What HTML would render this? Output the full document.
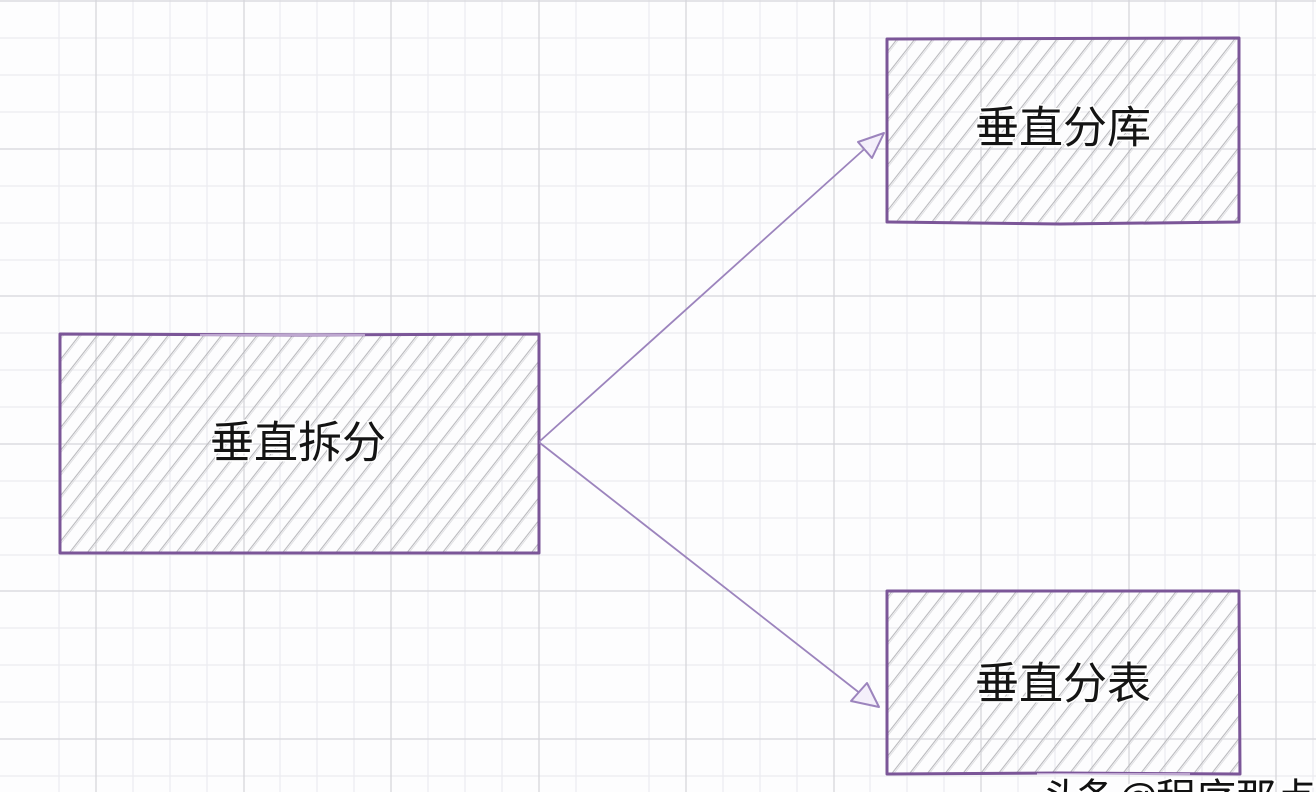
<!DOCTYPE html>
<html><head><meta charset="utf-8"><style>
html,body{margin:0;padding:0;background:#fff;}
svg{display:block;}
</style></head><body>
<svg width="1316" height="792" viewBox="0 0 1316 792" xmlns="http://www.w3.org/2000/svg">
<defs>
<pattern id="h" width="14" height="14" patternUnits="userSpaceOnUse" patternTransform="rotate(38)">
<line x1="3" y1="0" x2="3" y2="14" stroke="#b9b9bd" stroke-width="1.1"/>
<line x1="4.6" y1="0" x2="4.6" y2="14" stroke="#dadade" stroke-width="0.8"/>
</pattern>
</defs>
<rect width="1316" height="792" fill="#fdfdfe"/>
<g stroke="#ececf0" stroke-width="1.2">
<line x1="59" y1="0" x2="59" y2="792"/><line x1="133" y1="0" x2="133" y2="792"/><line x1="170" y1="0" x2="170" y2="792"/><line x1="207" y1="0" x2="207" y2="792"/>
<line x1="280" y1="0" x2="280" y2="792"/><line x1="317" y1="0" x2="317" y2="792"/><line x1="354" y1="0" x2="354" y2="792"/>
<line x1="428" y1="0" x2="428" y2="792"/><line x1="465" y1="0" x2="465" y2="792"/><line x1="502" y1="0" x2="502" y2="792"/>
<line x1="576" y1="0" x2="576" y2="792"/><line x1="649" y1="0" x2="649" y2="792"/>
<line x1="723" y1="0" x2="723" y2="792"/><line x1="760" y1="0" x2="760" y2="792"/><line x1="797" y1="0" x2="797" y2="792"/>
<line x1="870" y1="0" x2="870" y2="792"/><line x1="907" y1="0" x2="907" y2="792"/><line x1="944" y1="0" x2="944" y2="792"/>
<line x1="1018" y1="0" x2="1018" y2="792"/><line x1="1055" y1="0" x2="1055" y2="792"/><line x1="1092" y1="0" x2="1092" y2="792"/>
<line x1="1165" y1="0" x2="1165" y2="792"/><line x1="1202" y1="0" x2="1202" y2="792"/><line x1="1239" y1="0" x2="1239" y2="792"/>
<line x1="1313" y1="0" x2="1313" y2="792"/>
<line x1="0" y1="38" x2="1316" y2="38"/><line x1="0" y1="75" x2="1316" y2="75"/><line x1="0" y1="112" x2="1316" y2="112"/>
<line x1="0" y1="186" x2="1316" y2="186"/><line x1="0" y1="223" x2="1316" y2="223"/><line x1="0" y1="260" x2="1316" y2="260"/>
<line x1="0" y1="333" x2="1316" y2="333"/><line x1="0" y1="370" x2="1316" y2="370"/><line x1="0" y1="407" x2="1316" y2="407"/>
<line x1="0" y1="481" x2="1316" y2="481"/><line x1="0" y1="518" x2="1316" y2="518"/><line x1="0" y1="555" x2="1316" y2="555"/>
<line x1="0" y1="628" x2="1316" y2="628"/><line x1="0" y1="665" x2="1316" y2="665"/><line x1="0" y1="702" x2="1316" y2="702"/>
<line x1="0" y1="776" x2="1316" y2="776"/>
</g>
<g stroke="#d6d6db" stroke-width="1.3">
<line x1="96" y1="0" x2="96" y2="792"/><line x1="244" y1="0" x2="244" y2="792"/><line x1="391" y1="0" x2="391" y2="792"/>
<line x1="539" y1="0" x2="539" y2="792"/><line x1="686" y1="0" x2="686" y2="792"/><line x1="834" y1="0" x2="834" y2="792"/>
<line x1="981" y1="0" x2="981" y2="792"/><line x1="1129" y1="0" x2="1129" y2="792"/><line x1="1276" y1="0" x2="1276" y2="792"/>
<line x1="0" y1="1" x2="1316" y2="1"/><line x1="0" y1="149" x2="1316" y2="149"/><line x1="0" y1="296" x2="1316" y2="296"/>
<line x1="0" y1="444" x2="1316" y2="444"/><line x1="0" y1="591" x2="1316" y2="591"/><line x1="0" y1="739" x2="1316" y2="739"/>
</g>

<!-- boxes -->
<g fill="url(#h)" stroke="#7b5698" stroke-width="3" stroke-linejoin="round">
<path d="M60 334 L300 335 L539 334 L539 553 L300 553 L60 553 Z"/>
<path d="M887 39 L1239 38 L1239 222 L1060 224 L887 222 Z"/>
<path d="M887 591 L1239 591 L1240 774 L1060 773 L887 774 Z"/>
</g>
<g stroke="#e6d8f2" stroke-width="1.2" fill="none">
<line x1="200" y1="335" x2="365" y2="335"/>
<line x1="1037" y1="774" x2="1190" y2="774"/>
</g>

<!-- arrows -->
<g stroke="#9c84bd" stroke-width="1.8" fill="none" stroke-linecap="round">
<line x1="540" y1="441" x2="880" y2="135"/>
<line x1="540" y1="443" x2="875" y2="705"/>
</g>
<g stroke="#9c84bd" stroke-width="2" fill="#f4effa" stroke-linejoin="round">
<polygon points="884,133 858,142 872,158"/>
<polygon points="879,707 851,701 867,683"/>
</g>

<!-- labels -->
<g font-family="'Liberation Sans','Noto Sans CJK SC',sans-serif" font-size="44" fill="#141414" stroke="#ffffff" stroke-width="3" paint-order="stroke" text-anchor="middle" dominant-baseline="central">
<text x="298" y="443">垂直拆分</text>
<text x="1063" y="128">垂直分库</text>
<text x="1063" y="684">垂直分表</text>
</g>

<!-- watermark -->
<text font-family="'Liberation Sans','Noto Sans CJK SC',sans-serif" font-size="40" fill="#111" stroke="#fff" stroke-width="4" paint-order="stroke" x="1043 1076 1118 1156 1196 1236 1276 1314" y="812">头条@程序那点事</text>
</svg>
</body></html>
